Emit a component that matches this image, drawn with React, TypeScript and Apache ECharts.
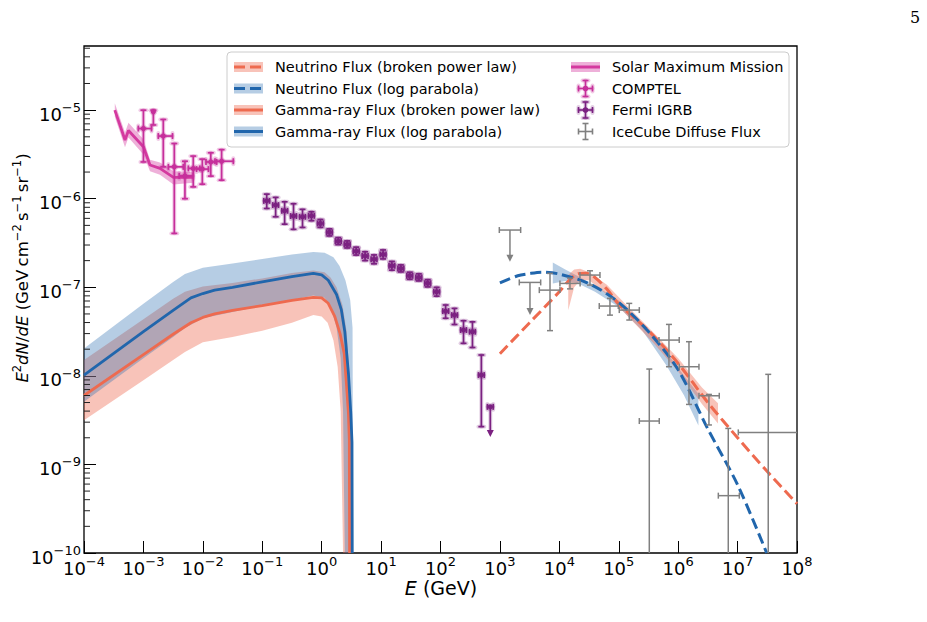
import React, { useEffect, useRef } from 'react';
import * as echarts from 'echarts';

const FONT = 'DejaVu Sans';

// ---------- Solar Maximum Mission (line + band) ----------
const smmE = [3.3e-4, 4.9e-4, 5.6e-4, 1.0e-3, 1.29e-3, 1.9e-3, 3.2e-3, 6.9e-3];
const smmF = [1.0e-5, 4.6e-6, 5.9e-6, 3.86e-6, 2.4e-6, 2.2e-6, 1.74e-6, 1.74e-6];
const smmUpper = [1.2e-5, 5.6e-6, 7.2e-6, 4.7e-6, 2.75e-6, 2.57e-6, 2.04e-6, 2.0e-6];
const smmLower = [8.4e-6, 3.8e-6, 4.9e-6, 3.16e-6, 2.04e-6, 1.86e-6, 1.45e-6, 1.51e-6];

// ---------- COMPTEL ----------
const comptelE = [1.0e-3, 1.47e-3, 2.16e-3, 3.31e-3, 5.0e-3, 6.9e-3, 9.8e-3, 1.36e-2, 2.07e-2];
const comptelF = [6.2e-6, 9.6e-6, 5.1e-6, 2.29e-6, 1.81e-6, 2.2e-6, 2.16e-6, 2.6e-6, 2.65e-6];
const comptelELo = [8.2e-4, 1.47e-3, 1.78e-3, 2.63e-3, 4.0e-3, 5.7e-3, 7.85e-3, 1.13e-2, 1.6e-2];
const comptelEHi = [1.37e-3, 1.47e-3, 3.09e-3, 4.68e-3, 6.9e-3, 8.9e-3, 1.24e-2, 1.71e-2, 3.26e-2];
const comptelFLo = [2.6e-6, 6.8e-6, 2.29e-6, 4.06e-7, 1.0e-6, 1.36e-6, 1.46e-6, 1.8e-6, 1.62e-6];
const comptelFHi = [1.0e-5, 1.0e-5, 7.85e-6, 4.2e-6, 2.65e-6, 3.03e-6, 2.8e-6, 3.3e-6, 3.58e-6];

// ---------- Fermi IGRB ----------
const fermiE = [0.119, 0.168, 0.238, 0.336, 0.476, 0.673, 0.951, 1.35, 1.9, 2.69, 3.81, 5.38, 7.61, 10.8, 15.2, 21.5, 30.4, 43.1, 60.9, 86.1, 122, 172, 244, 345, 487];
const fermiELo = [0.106, 0.15, 0.213, 0.3, 0.425, 0.601, 0.849, 1.21, 1.7, 2.4, 3.4, 4.8, 6.79, 9.64, 13.6, 19.2, 27.1, 38.5, 54.4, 76.9, 109, 154, 218, 308, 435];
const fermiEHi = [0.133, 0.188, 0.267, 0.376, 0.533, 0.754, 1.07, 1.51, 2.13, 3.01, 4.27, 6.03, 8.52, 12.1, 17.0, 24.1, 34.0, 48.3, 68.2, 96.4, 137, 193, 273, 386, 545];
const fermiF = [9.46e-7, 8.47e-7, 7.31e-7, 6.37e-7, 6.25e-7, 6.41e-7, 5.26e-7, 4.17e-7, 3.32e-7, 3.05e-7, 2.56e-7, 2.25e-7, 2.07e-7, 2.35e-7, 1.75e-7, 1.63e-7, 1.35e-7, 1.29e-7, 1.11e-7, 8.91e-8, 5.38e-8, 4.85e-8, 3.29e-8, 3.15e-8, 1.02e-8];
const fermiFLo = [7.76e-7, 6.25e-7, 5.16e-7, 4.51e-7, 4.74e-7, 5.64e-7, 4.74e-7, 3.8e-7, 3.03e-7, 2.78e-7, 2.31e-7, 2.0e-7, 1.84e-7, 2.09e-7, 1.56e-7, 1.49e-7, 1.23e-7, 1.18e-7, 1.01e-7, 7.94e-8, 4.47e-8, 3.8e-8, 2.33e-8, 2.09e-8, 2.67e-9];
const fermiFHi = [1.127e-6, 1.035e-6, 9.23e-7, 8.77e-7, 7.59e-7, 7.13e-7, 5.83e-7, 4.57e-7, 3.64e-7, 3.34e-7, 2.84e-7, 2.52e-7, 2.32e-7, 2.64e-7, 1.96e-7, 1.79e-7, 1.48e-7, 1.42e-7, 1.22e-7, 1.0e-7, 6.31e-8, 5.78e-8, 4.19e-8, 4.07e-8, 1.72e-8];
// last Fermi bin is an upper limit
const fermiUlE = [689];
const fermiUlELo = [615];
const fermiUlEHi = [772];
const fermiUlF = [4.47e-9];
const fermiUlTip = [2.04e-9];

// ---------- IceCube diffuse flux ----------
const icE = [6966, 15100, 32810, 71120, 150300, 326600, 699800, 1.52e6, 3.296e6, 6.97e6, 3.28e7];
const icELo = [4603, 10230, 22230, 46990, 102100, 221800, 475300, 1.042e6, 2.239e6, 4.74e6, 1.028e7];
const icEHi = [10257, 22390, 48310, 98170, 221800, 480800, 1.042e6, 2.239e6, 4.92e6, 1.07e7, 1e8];
const icF = [9.29e-8, 1.106e-7, 1.374e-7, 6.14e-8, 5.53e-8, 3.09e-9, 2.535e-8, 1.268e-8, 5.96e-9, 4.44e-10, 2.3e-9];
const icFLo = [3.24e-8, 9.6e-8, 1.059e-7, 4.85e-8, 4.27e-8, 1e-10, 1.268e-8, 4.76e-9, 2.79e-9, 1e-10, 1e-10];
const icFHi = [1.435e-7, 1.27e-7, 1.535e-7, 7.5e-8, 6.58e-8, 1.194e-8, 3.81e-8, 2.43e-8, 6.17e-9, 2.55e-9, 1.04e-8];
const icUlE = [1476, 3206];
const icUlELo = [977, 2118];
const icUlEHi = [2234, 4853];
const icUlF = [4.43e-7, 1.135e-7];
const icUlTip = [1.94e-7, 4.85e-8];

// ---------- Gamma-ray flux, log parabola ----------
const gLpE = [1e-4, 1e-3, 3.16e-3, 6.3e-3, 1e-2, 1.58e-2, 3.16e-2, 0.1, 0.316, 0.724, 1.0, 1.29, 1.78, 2.14, 2.45, 2.82, 3.09, 3.24, 3.27];
const gLpF = [1.02e-8, 3.16e-8, 5.5e-8, 7.6e-8, 8.5e-8, 9.3e-8, 1.0e-7, 1.15e-7, 1.32e-7, 1.435e-7, 1.38e-7, 1.2e-7, 8.3e-8, 5.6e-8, 3.16e-8, 1.07e-8, 3.8e-9, 1.78e-9, 1e-10];
const gLpUpE = [1e-4, 1e-3, 3.16e-3, 5.0e-3, 1e-2, 3.16e-2, 0.1, 0.316, 0.724, 1.12, 1.58, 2.0, 2.51, 3.02, 3.31, 3.39];
const gLpUpF = [2.04e-8, 6.5e-8, 1.15e-7, 1.41e-7, 1.66e-7, 1.86e-7, 2.09e-7, 2.34e-7, 2.51e-7, 2.45e-7, 2.19e-7, 1.74e-7, 1.2e-7, 7.2e-8, 3.5e-8, 1e-10];
const gLpLoE = [1e-4, 1e-3, 3.16e-3, 5.0e-3, 1e-2, 3.16e-2, 0.1, 0.316, 0.724, 1.12, 1.41, 1.78, 2.09, 2.29, 2.45];
const gLpLoF = [5.1e-9, 1.58e-8, 2.75e-8, 3.47e-8, 4.47e-8, 5.25e-8, 6.2e-8, 7.2e-8, 8.1e-8, 7.6e-8, 6.0e-8, 3.55e-8, 1.58e-8, 4.0e-9, 1e-10];

// ---------- Gamma-ray flux, broken power law ----------
const gBpE = [1e-4, 1e-3, 3.16e-3, 6.3e-3, 1e-2, 1.58e-2, 3.16e-2, 0.1, 0.316, 0.724, 1.0, 1.29, 1.66, 2.04, 2.4, 2.63, 2.82, 2.92, 2.95];
const gBpF = [6.0e-9, 1.74e-8, 2.95e-8, 3.98e-8, 4.57e-8, 5.0e-8, 5.5e-8, 6.2e-8, 7.1e-8, 7.7e-8, 7.6e-8, 6.6e-8, 4.7e-8, 3.0e-8, 1.78e-8, 7.6e-9, 3.8e-9, 1.9e-9, 1e-10];
const gBpUpE = [1e-4, 1e-3, 3.16e-3, 5.0e-3, 1e-2, 3.16e-2, 0.1, 0.316, 0.724, 1.12, 1.41, 1.78, 2.24, 2.63, 2.95, 3.16, 3.24];
const gBpUpF = [1.51e-8, 4.37e-8, 7.4e-8, 8.9e-8, 1.02e-7, 1.12e-7, 1.26e-7, 1.45e-7, 1.55e-7, 1.48e-7, 1.29e-7, 1.0e-7, 6.3e-8, 3.16e-8, 1.0e-8, 3.16e-9, 1e-10];
const gBpLoE = [1e-4, 1e-3, 3.16e-3, 5.0e-3, 1e-2, 3.16e-2, 0.1, 0.316, 0.724, 1.0, 1.26, 1.58, 1.86, 2.09, 2.29];
const gBpLoF = [3.16e-9, 8.9e-9, 1.51e-8, 1.86e-8, 2.4e-8, 2.75e-8, 3.24e-8, 3.98e-8, 4.85e-8, 4.68e-8, 3.98e-8, 2.51e-8, 1.26e-8, 3.98e-9, 1e-10];

// ---------- Neutrino flux models ----------
const nuBpE = [1000, 3162, 1e4, 14125, 19950, 28180, 39810, 63100, 1e5, 3.162e5, 1e6, 3.162e6, 1e7, 3.162e7, 1e8];
const nuBpF = [1.78e-8, 3.98e-8, 8.9e-8, 1.17e-7, 1.41e-7, 1.445e-7, 1.29e-7, 9.55e-8, 6.46e-8, 3.24e-8, 1.38e-8, 5.0e-9, 2.0e-9, 8.3e-10, 3.6e-10];
const nuLpE = [1000, 1995, 3162, 5012, 1e4, 31620, 1e5, 3.162e5, 1e6, 3.162e6, 1e7, 3.09e7];
const nuLpF = [1.12e-7, 1.35e-7, 1.43e-7, 1.48e-7, 1.41e-7, 1.1e-7, 6.76e-8, 3.16e-8, 1.17e-8, 2.51e-9, 5.9e-10, 1e-10];

// fit bands in the neutrino range
const nuLpBandE = [7762, 12590, 19950, 39810, 1e5, 2.512e5, 6.31e5, 1.259e6, 2.19e6];
const nuLpBandUp = [1.905e-7, 1.585e-7, 1.35e-7, 1.047e-7, 7.08e-8, 3.89e-8, 1.86e-8, 1.0e-8, 6.3e-9];
const nuLpBandLo = [1.1e-7, 1.175e-7, 1.12e-7, 8.9e-8, 6.0e-8, 3.24e-8, 1.32e-8, 6.0e-9, 2.75e-9];
const nuBpBandE = [14125, 17780, 22390, 31620, 63100, 1.585e5, 3.981e5, 1e6, 2.512e6, 4.68e6];
const nuBpBandUp = [1.38e-7, 1.585e-7, 1.62e-7, 1.48e-7, 1.07e-7, 5.6e-8, 3.0e-8, 1.58e-8, 7.4e-9, 4.9e-9];
const nuBpBandLo = [5.5e-8, 1.0e-7, 1.2e-7, 1.2e-7, 8.3e-8, 4.37e-8, 2.29e-8, 1.12e-8, 4.8e-9, 2.9e-9];

// axis ranges
const X_MIN = 1e-4;
const X_MAX = 1e8;
const Y_MIN = 1e-10;
const Y_MAX = 5.3e-5;

const ORANGE = '#ee6a4f';
const BLUE = '#2166ac';
const ORANGE_BAND = 'rgba(238,106,79,0.40)';
const BLUE_BAND = 'rgba(33,102,172,0.33)';
const SMM = '#d4399f';
const SMM_BAND = 'rgba(212,57,159,0.40)';
const COMPTEL = '#c62f9b';
const FERMI = '#7b2181';
const ICECUBE = '#808080';

const pairs = (xs: number[], ys: number[]) => xs.map((x, i) => [x, ys[i]]);

function bandSeries(upE: number[], upF: number[], loE: number[], loF: number[], fill: string) {
  return {
    type: 'custom',
    coordinateSystem: 'cartesian2d',
    silent: true,
    z: 2,
    data: [[upE[0], upF[0]]],
    encode: { x: 0, y: 1 },
    renderItem: (_p: any, api: any) => {
      const pts: number[][] = [];
      for (let i = 0; i < upE.length; i++) pts.push(api.coord([upE[i], upF[i]]));
      for (let i = loE.length - 1; i >= 0; i--) pts.push(api.coord([loE[i], loF[i]]));
      return { type: 'polygon', shape: { points: pts }, style: { fill } };
    },
  };
}

function lineSeries(E: number[], F: number[], color: string, width: number, dashed: boolean, smooth: number | boolean = false) {
  return {
    type: 'line',
    data: pairs(E, F),
    showSymbol: false,
    symbol: 'none',
    silent: true,
    smooth,
    clip: true,
    z: 3,
    lineStyle: { color, width, type: dashed ? [11, 5] : 'solid', cap: 'butt' },
  };
}

interface BarOpt {
  color: string;
  halo?: string;
  width: number;
  cap: number;
  r: number;
  upperLimit?: boolean;
}

function errorBarSeries(rows: number[][], o: BarOpt) {
  return {
    type: 'custom',
    coordinateSystem: 'cartesian2d',
    silent: true,
    z: 5,
    data: rows,
    encode: { x: 0, y: 1 },
    renderItem: (params: any, api: any) => {
      const cs = params.coordSys;
      const L = cs.x, R = cs.x + cs.width, T = cs.y, B = cs.y + cs.height;
      const E = api.value(0), F = api.value(1);
      const [cx, cy] = api.coord([E, F]);
      const xl = api.coord([api.value(2), F])[0];
      const xh = api.coord([api.value(3), F])[0];
      const yl = api.coord([E, api.value(4)])[1];
      const yh = api.coord([E, api.value(5)])[1];
      const cl = (v: number, a: number, b: number) => Math.max(a, Math.min(b, v));
      const segs: number[][] = [];
      const polys: number[][][] = [];
      if (xh - xl > 0.5) {
        segs.push([cl(xl, L, R), cy, cl(xh, L, R), cy]);
        if (xl > L + 0.5) segs.push([xl, cy - o.cap, xl, cy + o.cap]);
        if (xh < R - 0.5) segs.push([xh, cy - o.cap, xh, cy + o.cap]);
      }
      if (o.upperLimit) {
        const tip = yl;
        segs.push([cx, cy, cx, tip - 5]);
        polys.push([[cx - 3.5, tip - 7], [cx + 3.5, tip - 7], [cx, tip]]);
      } else {
        const a = cl(yh, T, B), b = cl(yl, T, B);
        if (b - a > 0.5) {
          segs.push([cx, a, cx, b]);
          if (yh > T + 0.5 && yh < cy - 0.5) segs.push([cx - o.cap, yh, cx + o.cap, yh]);
          if (yl < B - 0.5 && yl > cy + 0.5) segs.push([cx - o.cap, yl, cx + o.cap, yl]);
        }
      }
      const children: any[] = [];
      if (o.halo) {
        segs.forEach((s) =>
          children.push({ type: 'line', shape: { x1: s[0], y1: s[1], x2: s[2], y2: s[3] }, style: { stroke: o.halo, lineWidth: o.width + 2.2, lineCap: 'round' } })
        );
        if (o.r > 0) children.push({ type: 'circle', shape: { cx, cy, r: o.r + 1.3 }, style: { fill: o.halo } });
      }
      segs.forEach((s) =>
        children.push({ type: 'line', shape: { x1: s[0], y1: s[1], x2: s[2], y2: s[3] }, style: { stroke: o.color, lineWidth: o.width } })
      );
      polys.forEach((p) => children.push({ type: 'polygon', shape: { points: p }, style: { fill: o.color } }));
      if (o.r > 0) children.push({ type: 'circle', shape: { cx, cy, r: o.r }, style: { fill: o.color } });
      return { type: 'group', children };
    },
  };
}

// y-axis minor ticks at 2..9 x 10^n
const yMinorTicks: number[] = [];
for (let n = -10; n <= -5; n++) {
  for (let k = 2; k <= 9; k++) {
    const v = k * Math.pow(10, n);
    if (v < Y_MAX) yMinorTicks.push(v);
  }
}

const minorTickSeries = {
  type: 'custom',
  coordinateSystem: 'cartesian2d',
  silent: true,
  z: 6,
  data: yMinorTicks.map((v) => [1, v]),
  encode: { x: 0, y: 1 },
  renderItem: (params: any, api: any) => {
    const y = api.coord([1, api.value(1)])[1];
    const x0 = params.coordSys.x;
    return { type: 'line', shape: { x1: x0, y1: y, x2: x0 + 6, y2: y }, style: { stroke: '#222', lineWidth: 1 } };
  },
};

const powLabel = (v: number) => {
  const lg = Math.log10(v);
  const e = Math.round(lg);
  if (Math.abs(lg - e) > 1e-6) return '';
  const s = e < 0 ? '\u2212' + Math.abs(e) : String(e);
  return `{b|10}{s|${s}}`;
};

// exponent raised above the base via top/bottom token alignment
const tickRich = {
  b: { fontFamily: FONT, fontSize: 18, lineHeight: 22, verticalAlign: 'bottom', color: '#000' },
  s: { fontFamily: FONT, fontSize: 13, lineHeight: 10, verticalAlign: 'top', color: '#000' },
};

// legend drawn with graphic elements
const legendRows = [67, 88.5, 110, 131.5];
const C1 = { h0: 234, h1: 263, t: 275 };
const C2 = { h0: 571, h1: 600, t: 612 };

function legendText(x: number, y: number, text: string) {
  return {
    type: 'text',
    silent: true,
    x,
    y,
    style: { text, fill: '#000', font: `14.5px "${FONT}"`, textAlign: 'left', textVerticalAlign: 'middle', align: 'left', verticalAlign: 'middle' },
  };
}

function bandHandle(c: { h0: number; h1: number }, y: number, fill: string, stroke: string, dashed: boolean) {
  return [
    { type: 'rect', silent: true, shape: { x: c.h0, y: y - 5, width: c.h1 - c.h0, height: 10 }, style: { fill } },
    {
      type: 'line',
      silent: true,
      shape: { x1: c.h0, y1: y, x2: c.h1, y2: y },
      style: { stroke, lineWidth: 3, lineDash: dashed ? [11, 5] : null },
    },
  ];
}

function crossHandle(c: { h0: number; h1: number }, y: number, color: string, halo: string | null, dot: boolean) {
  const cx = (c.h0 + c.h1) / 2;
  const segs = [
    [cx - 7, y, cx + 7, y],
    [cx - 7, y - 3, cx - 7, y + 3],
    [cx + 7, y - 3, cx + 7, y + 3],
    [cx, y - 8, cx, y + 8],
    [cx - 3, y - 8, cx + 3, y - 8],
    [cx - 3, y + 8, cx + 3, y + 8],
  ];
  const out: any[] = [];
  if (halo) segs.forEach((s) => out.push({ type: 'line', silent: true, shape: { x1: s[0], y1: s[1], x2: s[2], y2: s[3] }, style: { stroke: halo, lineWidth: 4, lineCap: 'round' } }));
  segs.forEach((s) => out.push({ type: 'line', silent: true, shape: { x1: s[0], y1: s[1], x2: s[2], y2: s[3] }, style: { stroke: color, lineWidth: 1.6 } }));
  if (dot) out.push({ type: 'circle', silent: true, shape: { cx, cy: y, r: 2.8 }, style: { fill: color } });
  return out;
}

const COMPTEL_HALO = 'rgba(198,47,155,0.25)';
const FERMI_HALO = 'rgba(123,33,129,0.22)';

function buildOption() {
  const graphicEls: any[] = [
    {
      type: 'rect',
      silent: true,
      shape: { x: 227, y: 52, width: 562, height: 95, r: 4 },
      style: { fill: 'rgba(255,255,255,0.8)', stroke: '#cccccc', lineWidth: 1 },
    },
    ...bandHandle(C1, legendRows[0], ORANGE_BAND, ORANGE, true),
    legendText(C1.t, legendRows[0], 'Neutrino Flux (broken power law)'),
    ...bandHandle(C1, legendRows[1], BLUE_BAND, BLUE, true),
    legendText(C1.t, legendRows[1], 'Neutrino Flux (log parabola)'),
    ...bandHandle(C1, legendRows[2], ORANGE_BAND, ORANGE, false),
    legendText(C1.t, legendRows[2], 'Gamma-ray Flux (broken power law)'),
    ...bandHandle(C1, legendRows[3], BLUE_BAND, BLUE, false),
    legendText(C1.t, legendRows[3], 'Gamma-ray Flux (log parabola)'),
    ...bandHandle(C2, legendRows[0], SMM_BAND, SMM, false),
    legendText(C2.t, legendRows[0], 'Solar Maximum Mission'),
    ...crossHandle(C2, legendRows[1], COMPTEL, COMPTEL_HALO, true),
    legendText(C2.t, legendRows[1], 'COMPTEL'),
    ...crossHandle(C2, legendRows[2], FERMI, FERMI_HALO, true),
    legendText(C2.t, legendRows[2], 'Fermi IGRB'),
    ...crossHandle(C2, legendRows[3], ICECUBE, null, false),
    legendText(C2.t, legendRows[3], 'IceCube Diffuse Flux'),
    // axis titles
    {
      type: 'text',
      silent: true,
      x: 21,
      y: 268,
      rotation: Math.PI / 2,
      style: {
        text: '{i|E}{s|2}{i|dN}{r|/}{i|dE}{r| (GeV\u2009cm}{s|\u22122}{r|\u2009s}{s|\u22121}{r|\u2009sr}{s|\u22121}{r|)}',
        textAlign: 'center',
        textVerticalAlign: 'middle',
        align: 'center',
        verticalAlign: 'middle',
        rich: {
          i: { fontFamily: FONT, fontStyle: 'italic', fontSize: 16.5, lineHeight: 20, verticalAlign: 'bottom', fill: '#000', color: '#000' },
          r: { fontFamily: FONT, fontSize: 16.5, lineHeight: 20, verticalAlign: 'bottom', fill: '#000', color: '#000' },
          s: { fontFamily: FONT, fontSize: 11.5, lineHeight: 9, verticalAlign: 'top', fill: '#000', color: '#000' },
        },
      },
    },
    {
      type: 'text',
      silent: true,
      x: 441,
      y: 588,
      style: {
        text: '{i|E}{r| (GeV)}',
        textAlign: 'center',
        textVerticalAlign: 'middle',
        align: 'center',
        verticalAlign: 'middle',
        rich: {
          i: { fontFamily: FONT, fontStyle: 'italic', fontSize: 19, lineHeight: 18, fill: '#000', color: '#000' },
          r: { fontFamily: FONT, fontSize: 19, lineHeight: 18, fill: '#000', color: '#000' },
        },
      },
    },
    {
      type: 'text',
      silent: true,
      x: 915,
      y: 17,
      style: { text: '5', fill: '#000', font: '16px "DejaVu Serif"', textAlign: 'center', textVerticalAlign: 'middle', align: 'center', verticalAlign: 'middle' },
    },
  ];

  const comptelRows = comptelE.map((e, i) => [e, comptelF[i], comptelELo[i], comptelEHi[i], comptelFLo[i], comptelFHi[i]]);
  const fermiRows = fermiE.map((e, i) => [e, fermiF[i], fermiELo[i], fermiEHi[i], fermiFLo[i], fermiFHi[i]]);
  const fermiUlRows = fermiUlE.map((e, i) => [e, fermiUlF[i], fermiUlELo[i], fermiUlEHi[i], fermiUlTip[i], fermiUlF[i]]);
  const icRows = icE.map((e, i) => [e, icF[i], icELo[i], icEHi[i], icFLo[i], icFHi[i]]);
  const icUlRows = icUlE.map((e, i) => [e, icUlF[i], icUlELo[i], icUlEHi[i], icUlTip[i], icUlF[i]]);

  return {
    animation: false,
    backgroundColor: '#ffffff',
    grid: { left: 84, right: 130, top: 46, bottom: 69, show: true, borderColor: '#000', borderWidth: 1.3, backgroundColor: 'transparent' },
    xAxis: {
      type: 'log',
      logBase: 10,
      min: X_MIN,
      max: X_MAX,
      interval: 1,
      axisLine: { show: false },
      axisTick: { show: true, inside: true, length: 12, lineStyle: { color: '#000', width: 1 } },
      minorTick: { show: false },
      splitLine: { show: false },
      axisLabel: { margin: 2, formatter: powLabel, rich: tickRich, showMinLabel: true, showMaxLabel: true },
    },
    yAxis: {
      type: 'log',
      logBase: 10,
      min: Y_MIN,
      max: Y_MAX,
      interval: 1,
      axisLine: { show: false },
      axisTick: { show: true, inside: true, length: 12, lineStyle: { color: '#000', width: 1 } },
      minorTick: { show: false },
      splitLine: { show: false },
      axisLabel: { margin: 3, padding: [4, 0, 0, 0], formatter: powLabel, rich: tickRich, showMinLabel: true, showMaxLabel: false },
    },
    graphic: { elements: graphicEls },
    series: [
      // gamma-ray bands (low energy)
      bandSeries(gBpUpE, gBpUpF, gBpLoE, gBpLoF, ORANGE_BAND),
      bandSeries(gLpUpE, gLpUpF, gLpLoE, gLpLoF, BLUE_BAND),
      // neutrino fit bands
      bandSeries(nuLpBandE, nuLpBandUp, nuLpBandE, nuLpBandLo, BLUE_BAND),
      bandSeries(nuBpBandE, nuBpBandUp, nuBpBandE, nuBpBandLo, ORANGE_BAND),
      // solar maximum mission band
      bandSeries(smmE, smmUpper, smmE, smmLower, SMM_BAND),
      lineSeries(gBpE, gBpF, ORANGE, 2.8, false),
      lineSeries(gLpE, gLpF, BLUE, 2.8, false),
      lineSeries(nuBpE, nuBpF, ORANGE, 3, true, 0.3),
      lineSeries(nuLpE, nuLpF, BLUE, 3, true, 0.3),
      lineSeries(smmE, smmF, SMM, 2.8, false),
      errorBarSeries(icRows, { color: ICECUBE, width: 1.5, cap: 3, r: 0 }),
      errorBarSeries(icUlRows, { color: ICECUBE, width: 1.5, cap: 3, r: 0, upperLimit: true }),
      errorBarSeries(comptelRows, { color: COMPTEL, halo: COMPTEL_HALO, width: 1.7, cap: 3, r: 2.6 }),
      errorBarSeries(fermiRows, { color: FERMI, halo: FERMI_HALO, width: 1.7, cap: 3, r: 2.6 }),
      errorBarSeries(fermiUlRows, { color: FERMI, halo: FERMI_HALO, width: 1.7, cap: 3, r: 2.6, upperLimit: true }),
      minorTickSeries,
    ],
  };
}

export default function App() {
  const ref = useRef<HTMLDivElement>(null);
  useEffect(() => {
    if (!ref.current) return;
    const chart = echarts.init(ref.current, null, { renderer: 'svg' });
    chart.setOption(buildOption() as any);
    return () => chart.dispose();
  }, []);
  return (
    <div
      ref={ref}
      style={{ position: 'fixed', left: 0, top: 0, width: 927, height: 622, background: '#ffffff' }}
    />
  );
}
